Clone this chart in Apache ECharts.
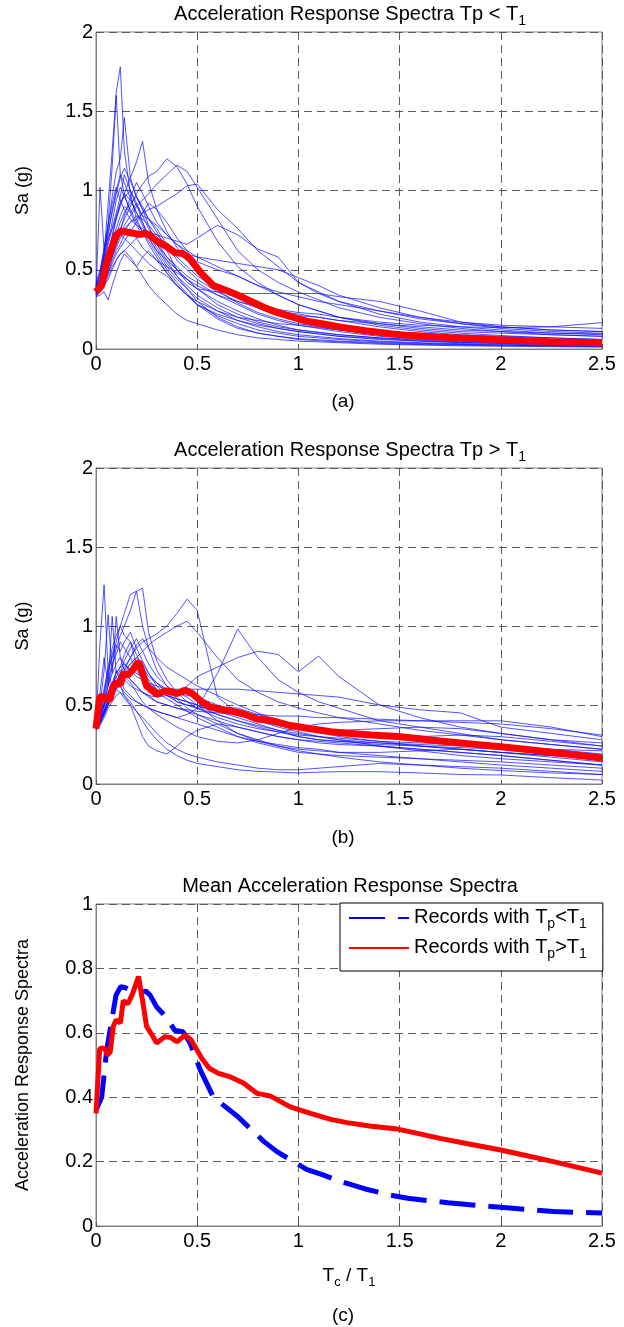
<!DOCTYPE html>
<html><head><meta charset="utf-8">
<script src="https://cdn.jsdelivr.net/npm/echarts@6/dist/echarts.min.js"></script>
<style>html,body{margin:0;padding:0;background:#fff}#c{width:624px;height:1327px}</style>
</head><body><div id="c"></div>
<script>
// ---------- DATA ----------
// Period ratio grid shared by the individual record spectra
const periods = [0,0.02,0.04,0.06,0.08,0.1,0.12,0.14,0.17,0.2,0.23,0.26,0.3,0.35,0.4,0.45,0.5,0.6,0.7,0.8,0.9,1.0,1.1,1.2,1.4,1.6,1.8,2.0,2.25,2.5];

// (a) individual records, Tp < T1
const recordsShort = [
 [0.38,0.44,0.60,0.92,1.25,1.62,1.78,1.25,0.98,0.82,0.74,0.66,0.58,0.48,0.40,0.34,0.28,0.21,0.16,0.12,0.10,0.08,0.07,0.06,0.045,0.036,0.03,0.026,0.022,0.02],
 [0.36,0.42,0.58,0.80,1.15,1.60,1.10,0.98,0.86,0.92,0.80,0.70,0.62,0.52,0.44,0.38,0.32,0.24,0.18,0.14,0.11,0.09,0.078,0.066,0.05,0.04,0.034,0.03,0.026,0.022],
 [0.40,0.48,0.62,0.78,0.96,1.12,1.20,1.46,1.08,0.96,0.88,0.78,0.66,0.56,0.46,0.40,0.34,0.26,0.20,0.16,0.13,0.11,0.095,0.08,0.06,0.05,0.042,0.036,0.03,0.026],
 [0.37,0.42,0.50,0.58,0.70,0.82,0.92,0.98,1.08,1.18,1.31,1.05,0.88,0.74,0.64,0.56,0.48,0.37,0.29,0.23,0.19,0.16,0.14,0.12,0.09,0.07,0.06,0.05,0.042,0.036],
 [0.36,0.40,0.46,0.54,0.62,0.70,0.76,0.82,0.90,0.98,1.04,1.09,1.12,1.20,1.15,1.04,0.90,0.68,0.52,0.42,0.34,0.28,0.24,0.20,0.15,0.12,0.10,0.085,0.07,0.06],
 [0.34,0.38,0.44,0.52,0.60,0.66,0.72,0.78,0.84,0.90,0.94,0.98,1.04,1.10,1.16,1.12,1.02,0.82,0.62,0.50,0.42,0.36,0.31,0.26,0.20,0.16,0.13,0.11,0.09,0.08],
 [0.38,0.42,0.50,0.56,0.62,0.68,0.72,0.76,0.80,0.82,0.86,0.88,0.90,0.94,0.98,1.03,1.04,0.88,0.76,0.62,0.52,0.42,0.36,0.30,0.22,0.17,0.14,0.12,0.10,0.09],
 [0.35,0.40,0.48,0.56,0.64,0.72,0.80,0.86,0.92,0.96,0.90,0.82,0.74,0.62,0.50,0.42,0.38,0.36,0.35,0.35,0.35,0.35,0.35,0.33,0.30,0.24,0.17,0.15,0.14,0.13],
 [0.33,0.36,0.42,0.48,0.56,0.62,0.66,0.72,0.76,0.70,0.64,0.60,0.56,0.52,0.48,0.44,0.40,0.34,0.30,0.27,0.25,0.23,0.22,0.20,0.17,0.15,0.14,0.135,0.14,0.166],
 [0.34,0.36,0.40,0.44,0.50,0.56,0.60,0.62,0.58,0.52,0.46,0.40,0.34,0.28,0.22,0.18,0.16,0.12,0.09,0.07,0.06,0.05,0.045,0.04,0.03,0.025,0.02,0.018,0.015,0.012],
 [0.40,0.46,0.58,0.72,0.88,1.00,1.10,1.05,0.95,0.86,0.80,0.72,0.64,0.54,0.46,0.38,0.30,0.20,0.14,0.10,0.08,0.065,0.058,0.05,0.04,0.032,0.028,0.024,0.02,0.018],
 [0.35,0.38,0.44,0.50,0.58,0.66,0.74,0.84,0.96,1.05,0.98,0.90,0.80,0.72,0.66,0.60,0.55,0.50,0.46,0.40,0.34,0.28,0.24,0.20,0.16,0.13,0.11,0.10,0.09,0.08],
 [0.37,0.40,0.46,0.52,0.58,0.64,0.70,0.74,0.80,0.84,0.82,0.78,0.72,0.66,0.62,0.60,0.58,0.56,0.54,0.52,0.50,0.45,0.40,0.34,0.26,0.20,0.16,0.13,0.11,0.10],
 [0.39,0.45,0.56,0.68,0.80,0.94,1.02,0.96,0.88,0.80,0.74,0.68,0.60,0.50,0.42,0.35,0.28,0.19,0.13,0.10,0.08,0.06,0.052,0.045,0.035,0.028,0.024,0.02,0.018,0.015],
 [0.36,0.40,0.48,0.58,0.68,0.76,0.84,0.90,0.86,0.78,0.72,0.70,0.68,0.64,0.58,0.52,0.46,0.38,0.32,0.26,0.22,0.18,0.16,0.14,0.11,0.09,0.08,0.07,0.06,0.05],
 [0.34,0.36,0.40,0.46,0.52,0.56,0.60,0.62,0.66,0.70,0.72,0.74,0.72,0.70,0.68,0.66,0.70,0.78,0.72,0.63,0.58,0.42,0.35,0.30,0.24,0.19,0.16,0.14,0.12,0.11],
 [0.42,0.50,0.64,0.78,0.92,1.02,0.94,0.88,0.82,0.78,0.76,0.72,0.66,0.58,0.52,0.46,0.42,0.34,0.28,0.22,0.18,0.15,0.13,0.11,0.08,0.065,0.055,0.045,0.04,0.035],
 [0.33,0.34,0.36,0.31,0.40,0.48,0.55,0.60,0.56,0.52,0.58,0.62,0.56,0.48,0.40,0.34,0.30,0.24,0.20,0.18,0.16,0.15,0.135,0.12,0.10,0.085,0.075,0.065,0.055,0.05],
 [0.36,1.02,0.62,0.70,0.76,0.82,0.90,0.98,0.94,0.86,0.78,0.70,0.62,0.56,0.50,0.44,0.38,0.30,0.24,0.19,0.15,0.12,0.105,0.09,0.07,0.055,0.045,0.04,0.034,0.03],
 [0.38,0.44,0.54,0.66,0.76,0.86,0.96,1.10,1.00,0.90,0.84,0.82,0.76,0.66,0.56,0.50,0.44,0.36,0.30,0.26,0.23,0.21,0.20,0.18,0.16,0.14,0.12,0.11,0.10,0.095],
 [0.35,0.38,0.44,0.52,0.60,0.68,0.72,0.70,0.66,0.62,0.58,0.54,0.50,0.46,0.40,0.34,0.28,0.22,0.18,0.15,0.13,0.11,0.095,0.08,0.065,0.05,0.04,0.035,0.03,0.025],
 [0.40,0.48,0.60,0.74,0.86,0.98,1.08,1.14,1.06,0.96,0.88,0.82,0.78,0.72,0.66,0.62,0.58,0.52,0.46,0.40,0.36,0.33,0.30,0.28,0.24,0.20,0.17,0.14,0.12,0.11],
 [0.34,0.37,0.42,0.48,0.54,0.60,0.64,0.68,0.74,0.80,0.86,0.92,0.88,0.80,0.70,0.62,0.52,0.40,0.32,0.27,0.24,0.22,0.20,0.18,0.14,0.11,0.09,0.08,0.07,0.06],
 [0.37,0.41,0.50,0.60,0.72,0.84,0.92,0.96,1.00,0.92,0.84,0.76,0.68,0.58,0.50,0.44,0.38,0.28,0.22,0.17,0.14,0.12,0.105,0.09,0.07,0.06,0.05,0.045,0.04,0.035]
];

// (b) individual records, Tp > T1
const recordsLong = [
 [0.38,0.90,1.26,0.70,0.62,0.72,0.66,0.60,0.56,0.52,0.50,0.48,0.46,0.44,0.42,0.40,0.38,0.34,0.30,0.27,0.25,0.23,0.22,0.20,0.18,0.16,0.14,0.12,0.10,0.08],
 [0.36,0.50,0.72,1.07,0.70,1.06,0.80,0.72,0.66,0.62,0.58,0.56,0.52,0.50,0.48,0.46,0.44,0.40,0.36,0.33,0.30,0.28,0.27,0.26,0.24,0.22,0.20,0.18,0.15,0.12],
 [0.37,0.42,0.50,0.62,0.74,0.86,0.94,1.00,1.10,1.22,1.24,0.96,0.78,0.66,0.58,0.52,0.48,0.42,0.38,0.35,0.33,0.31,0.30,0.28,0.26,0.24,0.22,0.20,0.18,0.16],
 [0.40,0.46,0.56,0.70,0.82,0.90,1.00,1.08,1.20,1.22,1.00,0.86,0.72,0.62,0.54,0.48,0.44,0.38,0.32,0.28,0.24,0.21,0.19,0.17,0.14,0.12,0.10,0.085,0.07,0.06],
 [0.35,0.40,0.46,0.52,0.58,0.64,0.70,0.74,0.80,0.86,0.90,0.92,0.95,1.00,1.08,1.17,1.10,0.55,0.45,0.40,0.36,0.33,0.30,0.28,0.24,0.21,0.18,0.16,0.14,0.12],
 [0.37,0.42,0.50,0.56,0.60,0.64,0.68,0.72,0.76,0.80,0.84,0.88,0.92,0.96,1.00,1.03,0.96,0.80,0.66,0.58,0.52,0.48,0.45,0.42,0.38,0.34,0.31,0.28,0.25,0.22],
 [0.36,0.40,0.46,0.54,0.60,0.66,0.62,0.58,0.54,0.52,0.50,0.48,0.46,0.44,0.42,0.44,0.48,0.70,0.98,0.80,0.66,0.58,0.52,0.48,0.40,0.36,0.32,0.28,0.25,0.22],
 [0.34,0.38,0.44,0.50,0.56,0.60,0.64,0.66,0.62,0.60,0.58,0.56,0.55,0.56,0.58,0.62,0.68,0.74,0.80,0.84,0.82,0.71,0.81,0.68,0.50,0.42,0.36,0.32,0.28,0.24],
 [0.38,0.42,0.50,0.58,0.64,0.70,0.74,0.76,0.72,0.68,0.66,0.64,0.62,0.60,0.60,0.60,0.60,0.60,0.60,0.59,0.58,0.57,0.56,0.55,0.50,0.47,0.45,0.36,0.32,0.28],
 [0.36,0.40,0.48,0.56,0.62,0.68,0.72,0.70,0.66,0.62,0.58,0.55,0.52,0.50,0.48,0.47,0.46,0.45,0.44,0.44,0.43,0.43,0.42,0.42,0.41,0.40,0.39,0.38,0.35,0.31],
 [0.35,0.40,0.46,0.52,0.58,0.62,0.66,0.68,0.64,0.58,0.52,0.48,0.44,0.40,0.36,0.33,0.30,0.27,0.26,0.28,0.32,0.36,0.38,0.39,0.40,0.40,0.40,0.40,0.36,0.30],
 [0.34,0.37,0.42,0.48,0.52,0.56,0.58,0.56,0.52,0.46,0.40,0.34,0.28,0.22,0.18,0.15,0.13,0.11,0.09,0.08,0.075,0.07,0.075,0.078,0.078,0.07,0.06,0.057,0.04,0.025],
 [0.37,0.42,0.50,0.58,0.64,0.68,0.62,0.56,0.50,0.40,0.30,0.24,0.21,0.19,0.24,0.30,0.34,0.38,0.36,0.33,0.30,0.28,0.26,0.25,0.24,0.22,0.20,0.18,0.15,0.12],
 [0.39,0.46,0.58,0.72,0.80,0.88,0.84,0.90,0.96,0.86,0.78,0.70,0.62,0.56,0.52,0.50,0.48,0.44,0.40,0.36,0.33,0.30,0.28,0.27,0.25,0.24,0.23,0.22,0.20,0.18],
 [0.36,0.44,0.54,0.66,0.76,0.82,0.90,0.86,0.80,0.72,0.66,0.62,0.58,0.54,0.50,0.46,0.42,0.36,0.30,0.26,0.23,0.20,0.19,0.18,0.17,0.16,0.15,0.14,0.12,0.10],
 [0.40,0.48,0.60,0.74,0.86,0.94,1.00,0.94,0.90,0.82,0.74,0.68,0.64,0.60,0.58,0.56,0.55,0.50,0.45,0.40,0.37,0.35,0.34,0.34,0.35,0.36,0.35,0.32,0.28,0.26],
 [0.35,0.38,0.44,0.50,0.56,0.64,0.70,0.78,0.86,0.92,0.84,0.76,0.68,0.62,0.58,0.55,0.50,0.40,0.32,0.27,0.24,0.22,0.21,0.20,0.20,0.21,0.22,0.20,0.17,0.14],
 [0.37,0.40,0.45,0.50,0.55,0.60,0.66,0.72,0.80,0.88,0.92,0.86,0.80,0.74,0.70,0.66,0.62,0.56,0.50,0.45,0.40,0.36,0.34,0.32,0.30,0.30,0.31,0.30,0.27,0.24],
 [0.36,0.40,0.46,0.52,0.56,0.60,0.58,0.54,0.50,0.46,0.42,0.38,0.32,0.26,0.22,0.19,0.17,0.14,0.12,0.10,0.09,0.09,0.10,0.11,0.13,0.12,0.11,0.10,0.08,0.06],
 [0.38,0.44,0.52,0.62,0.70,0.76,0.80,0.76,0.72,0.70,0.68,0.64,0.60,0.56,0.54,0.52,0.50,0.46,0.42,0.38,0.34,0.30,0.28,0.27,0.26,0.25,0.24,0.23,0.22,0.21],
 [0.35,0.39,0.44,0.50,0.56,0.62,0.66,0.70,0.76,0.80,0.76,0.70,0.64,0.58,0.52,0.50,0.48,0.49,0.48,0.44,0.40,0.36,0.33,0.30,0.27,0.26,0.25,0.24,0.22,0.19],
 [0.36,0.58,0.80,0.62,1.06,0.70,0.74,0.82,0.90,0.76,0.70,0.66,0.60,0.56,0.54,0.52,0.50,0.44,0.40,0.37,0.34,0.32,0.30,0.29,0.27,0.24,0.22,0.20,0.18,0.16]
];

// Mean spectra [Tc/T1, Sa]
const meanShort = [[0,0.36],[0.028,0.40],[0.053,0.547],[0.078,0.64],[0.099,0.717],[0.122,0.743],[0.145,0.74],[0.168,0.733],[0.195,0.728],[0.218,0.723],[0.245,0.73],[0.267,0.717],[0.30,0.68],[0.33,0.66],[0.35,0.646],[0.39,0.607],[0.43,0.603],[0.465,0.568],[0.515,0.485],[0.58,0.40],[0.64,0.37],[0.70,0.34],[0.77,0.298],[0.83,0.262],[0.894,0.231],[0.976,0.20],[1.04,0.176],[1.125,0.158],[1.21,0.138],[1.33,0.115],[1.455,0.096],[1.54,0.086],[1.74,0.072],[2.0,0.058],[2.26,0.045],[2.5,0.04]];
const meanLong = [[0,0.35],[0.018,0.55],[0.028,0.553],[0.045,0.55],[0.055,0.53],[0.07,0.54],[0.085,0.62],[0.10,0.64],[0.12,0.63],[0.135,0.70],[0.155,0.69],[0.165,0.70],[0.18,0.72],[0.21,0.775],[0.23,0.70],[0.25,0.62],[0.27,0.60],[0.30,0.568],[0.34,0.588],[0.37,0.585],[0.40,0.572],[0.44,0.593],[0.47,0.578],[0.523,0.52],[0.56,0.49],[0.605,0.474],[0.66,0.464],[0.73,0.443],[0.795,0.412],[0.86,0.404],[0.96,0.37],[1.06,0.35],[1.16,0.331],[1.24,0.321],[1.36,0.31],[1.49,0.301],[1.60,0.286],[1.70,0.272],[1.85,0.254],[2.0,0.236],[2.13,0.218],[2.26,0.20],[2.38,0.182],[2.5,0.164]];

// Axis ticks
const xTicks = [0,0.5,1,1.5,2,2.5];
const yTicksSa = [0,0.5,1,1.5,2];
const yTicksMean = [0,0.2,0.4,0.6,0.8,1];

// Texts
const panelTitles = ['Acceleration Response Spectra Tp < T', 'Acceleration Response Spectra Tp > T', 'Mean Acceleration Response Spectra'];
const captions = ['(a)','(b)','(c)'];
const legendNames = ['Records with Tp<T1','Records with Tp>T1'];

// ---------- CHART ----------
const FF = '"Liberation Sans", Arial, Helvetica, sans-serif';
const RICH = {
  n:{fontSize:19, fontFamily:FF, fontWeight:'normal', color:'#000', verticalAlign:'top', lineHeight:22},
  s:{fontSize:13, fontFamily:FF, fontWeight:'normal', color:'#000', verticalAlign:'top', lineHeight:15, padding:[10,0,0,0]}
};
const RICH_T = {n:Object.assign({}, RICH.n, {fontSize:20}), s:Object.assign({}, RICH.s, {fontSize:14})};
const grids = [
  {left:96, top:32, width:506, height:317},
  {left:96, top:468, width:506, height:316},
  {left:96, top:904, width:506, height:322}
];
const gridLine = {show:true, lineStyle:{color:'#5a5a5a', type:[8,5], width:1}};
function xAxis(i, extra){
  return Object.assign({gridIndex:i, type:'value', min:xTicks[0], max:xTicks[xTicks.length-1], interval:xTicks[1]-xTicks[0],
    axisLine:{show:true, lineStyle:{color:'#808080'}}, axisTick:{show:true, inside:true, length:4, lineStyle:{color:'#555'}},
    axisLabel:{color:'#000', fontSize:20, fontFamily:FF, margin:5}, splitLine:gridLine}, extra||{});
}
function yAxis(i, ticks, name, gap){
  return {gridIndex:i, type:'value', min:ticks[0], max:ticks[ticks.length-1], interval:ticks[1]-ticks[0],
    name:name, nameLocation:'middle', nameGap:gap, nameTextStyle:{color:'#000', fontSize:18, fontFamily:FF},
    axisLine:{show:true, lineStyle:{color:'#808080'}}, axisTick:{show:true, inside:true, length:4, lineStyle:{color:'#555'}},
    axisLabel:{color:'#000', fontSize:20, fontFamily:FF, margin:3}, splitLine:gridLine};
}
const series = [];
function thin(records, gi){
  records.forEach((r,k)=>series.push({type:'line', name:'rec'+gi+'_'+k, xAxisIndex:gi, yAxisIndex:gi,
    data:r.map((v,i)=>[periods[i], v]), symbol:'none', showSymbol:false, silent:true, z:2,
    lineStyle:{color:'#1010ff', width:0.8, opacity:0.9}, itemStyle:{color:'#1010ff'}}));
}
thin(recordsShort, 0);
thin(recordsLong, 1);
series.push({type:'line', name:'meanA', xAxisIndex:0, yAxisIndex:0, data:meanShort, symbol:'none', z:5,
  lineStyle:{color:'#ff0000', width:7}, itemStyle:{color:'#ff0000'}});
series.push({type:'line', name:'meanB', xAxisIndex:1, yAxisIndex:1, data:meanLong, symbol:'none', z:5,
  lineStyle:{color:'#ff0000', width:7}, itemStyle:{color:'#ff0000'}});
series.push({type:'line', name:legendNames[0], xAxisIndex:2, yAxisIndex:2, data:meanShort, symbol:'none', z:5,
  lineStyle:{color:'#0000ff', width:5, type:[36,13]}, itemStyle:{color:'#0000ff'}});
series.push({type:'line', name:legendNames[1], xAxisIndex:2, yAxisIndex:2, data:meanLong, symbol:'none', z:6,
  lineStyle:{color:'#ff0000', width:5}, itemStyle:{color:'#ff0000'}});

const titleTops = [4, 440, 876];
const capTops = [392, 828, 1306];
const titles = [];
panelTitles.forEach((t,i)=>titles.push({
  text: i<2 ? '{n|'+t+'}{s|1}' : '{n|'+t+'}', left:350, top:titleTops[i], textAlign:'center',
  textStyle:{fontWeight:'normal', rich:RICH_T}, padding:0
}));
captions.forEach((c,i)=>titles.push({text:'{n|'+c+'}', left:343, top:capTops[i], textAlign:'center',
  textStyle:{fontWeight:'normal', rich:RICH}, padding:0}));

const chart = echarts.init(document.getElementById('c'), null, {renderer:'canvas'});
chart.setOption({
  animation:false,
  backgroundColor:'#fff',
  title: titles,
  grid: grids.map(g=>Object.assign({show:true, borderColor:'#808080', borderWidth:1, backgroundColor:'#fff'}, g)),
  xAxis: [xAxis(0), xAxis(1), xAxis(2, {name:'{n|T}{s|c}{n| / T}{s|1}', nameLocation:'middle', nameGap:40,
           nameTextStyle:{fontSize:19, fontFamily:FF, rich:RICH}})],
  yAxis: [yAxis(0, yTicksSa, 'Sa (g)', 64), yAxis(1, yTicksSa, 'Sa (g)', 64), yAxis(2, yTicksMean, 'Acceleration Response Spectra', 64)],
  legend: {data:legendNames, orient:'vertical', left:340, top:903, itemWidth:60, itemHeight:12, itemGap:6,
    padding:[4,16,10,8], backgroundColor:'#fff', borderColor:'#000', borderWidth:1, borderRadius:0,
    itemStyle:{opacity:0, borderWidth:0},
    formatter: n => n===legendNames[0] ? '{n|Records with T}{s|p}{n|<T}{s|1}' : '{n|Records with T}{s|p}{n|>T}{s|1}',
    textStyle:{fontSize:20, fontFamily:FF, rich:RICH_T}},
  series: series
});
</script></body></html>
